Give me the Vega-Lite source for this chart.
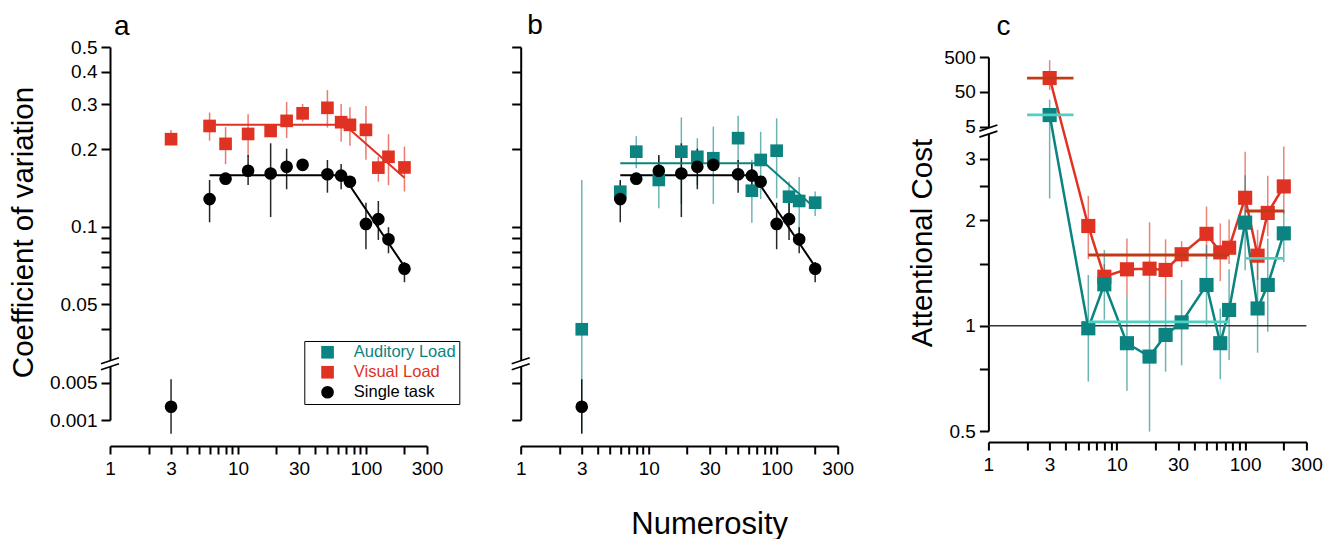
{
  "$schema": "https://vega.github.io/schema/vega-lite/v6.json",
  "padding": {"left": 8, "top": 11, "right": 0, "bottom": 0},
  "config": {
    "font": "Liberation Sans",
    "view": {"stroke": null},
    "axis": {"domainColor": "#000000", "domainWidth": 2, "tickColor": "#000000", "tickWidth": 2, "labelColor": "#000000", "labelFontSize": 19, "labelFont": "Liberation Sans", "titleFont": "Liberation Sans", "titleColor": "#000000", "titleFontWeight": "normal", "grid": false, "labelOverlap": false, "labelFlush": false},
    "title": {"fontSize": 28, "fontWeight": "normal", "anchor": "start", "frame": "group", "baseline": "alphabetic", "color": "#000000", "font": "Liberation Sans"}
  },
  "datasets": {
    "cv": [
      {"series": "Visual Load", "n": 3, "v": 0.219, "lo": 0.208, "hi": 0.238},
      {"series": "Visual Load", "n": 6, "v": 0.2465, "lo": 0.216, "hi": 0.278},
      {"series": "Visual Load", "n": 8, "v": 0.21, "lo": 0.175, "hi": 0.244},
      {"series": "Visual Load", "n": 12, "v": 0.2295, "lo": 0.187, "hi": 0.274},
      {"series": "Visual Load", "n": 18, "v": 0.2357, "lo": 0.226, "hi": 0.246},
      {"series": "Visual Load", "n": 24, "v": 0.258, "lo": 0.221, "hi": 0.306},
      {"series": "Visual Load", "n": 32, "v": 0.276, "lo": 0.256, "hi": 0.3},
      {"series": "Visual Load", "n": 50, "v": 0.29, "lo": 0.243, "hi": 0.34},
      {"series": "Visual Load", "n": 64, "v": 0.255, "lo": 0.214, "hi": 0.3},
      {"series": "Visual Load", "n": 75, "v": 0.249, "lo": 0.2066, "hi": 0.2914},
      {"series": "Visual Load", "n": 100, "v": 0.238, "lo": 0.182, "hi": 0.295},
      {"series": "Visual Load", "n": 125, "v": 0.1697, "lo": 0.1496, "hi": 0.187},
      {"series": "Visual Load", "n": 150, "v": 0.187, "lo": 0.145, "hi": 0.229},
      {"series": "Visual Load", "n": 200, "v": 0.17, "lo": 0.137, "hi": 0.205},
      {"series": "Auditory Load", "n": 3, "v": 0.0399, "lo": 0.00057, "hi": 0.152},
      {"series": "Auditory Load", "n": 6, "v": 0.1368, "lo": 0.125, "hi": 0.15},
      {"series": "Auditory Load", "n": 8, "v": 0.1958, "lo": 0.169, "hi": 0.225},
      {"series": "Auditory Load", "n": 12, "v": 0.152, "lo": 0.118, "hi": 0.187},
      {"series": "Auditory Load", "n": 18, "v": 0.1958, "lo": 0.1226, "hi": 0.266},
      {"series": "Auditory Load", "n": 24, "v": 0.187, "lo": 0.1453, "hi": 0.2208},
      {"series": "Auditory Load", "n": 32, "v": 0.1846, "lo": 0.1226, "hi": 0.245},
      {"series": "Auditory Load", "n": 50, "v": 0.221, "lo": 0.176, "hi": 0.27},
      {"series": "Auditory Load", "n": 64, "v": 0.138, "lo": 0.1036, "hi": 0.182},
      {"series": "Auditory Load", "n": 75, "v": 0.1818, "lo": 0.128, "hi": 0.234},
      {"series": "Auditory Load", "n": 100, "v": 0.1975, "lo": 0.129, "hi": 0.264},
      {"series": "Auditory Load", "n": 125, "v": 0.1308, "lo": 0.1127, "hi": 0.1496},
      {"series": "Auditory Load", "n": 150, "v": 0.1259, "lo": 0.09, "hi": 0.156},
      {"series": "Auditory Load", "n": 200, "v": 0.124, "lo": 0.11, "hi": 0.137},
      {"series": "Single task", "n": 3, "v": 0.00177, "lo": 0.00055, "hi": 0.0058},
      {"series": "Single task", "n": 6, "v": 0.128, "lo": 0.104, "hi": 0.152},
      {"series": "Single task", "n": 8, "v": 0.1537, "lo": 0.148, "hi": 0.16},
      {"series": "Single task", "n": 12, "v": 0.165, "lo": 0.1453, "hi": 0.19},
      {"series": "Single task", "n": 18, "v": 0.161, "lo": 0.109, "hi": 0.211},
      {"series": "Single task", "n": 24, "v": 0.171, "lo": 0.1398, "hi": 0.2012},
      {"series": "Single task", "n": 32, "v": 0.174, "lo": 0.168, "hi": 0.18},
      {"series": "Single task", "n": 50, "v": 0.16, "lo": 0.1356, "hi": 0.1818},
      {"series": "Single task", "n": 64, "v": 0.158, "lo": 0.1398, "hi": 0.1753},
      {"series": "Single task", "n": 75, "v": 0.1496, "lo": 0.145, "hi": 0.156},
      {"series": "Single task", "n": 100, "v": 0.1025, "lo": 0.0817, "hi": 0.124},
      {"series": "Single task", "n": 125, "v": 0.107, "lo": 0.0888, "hi": 0.1259},
      {"series": "Single task", "n": 150, "v": 0.0893, "lo": 0.0788, "hi": 0.0995},
      {"series": "Single task", "n": 200, "v": 0.0686, "lo": 0.0608, "hi": 0.0729}
    ],
    "cvfit": [
      {"series": "Visual Load", "n": 6, "v": 0.2494},
      {"series": "Visual Load", "n": 68, "v": 0.2494},
      {"series": "Visual Load", "n": 200, "v": 0.155},
      {"series": "Auditory Load", "n": 6, "v": 0.1765},
      {"series": "Auditory Load", "n": 81, "v": 0.1765},
      {"series": "Auditory Load", "n": 200, "v": 0.118},
      {"series": "Single task", "n": 6, "v": 0.1585},
      {"series": "Single task", "n": 66, "v": 0.1585},
      {"series": "Single task", "n": 200, "v": 0.0699}
    ],
    "cost": [
      {"series": "Visual Load", "n": 3, "v": 125, "lo": 57, "hi": 405},
      {"series": "Visual Load", "n": 6, "v": 1.927, "lo": 1.55, "hi": 2.35},
      {"series": "Visual Load", "n": 8, "v": 1.38, "lo": 1.25, "hi": 1.5},
      {"series": "Visual Load", "n": 12, "v": 1.449, "lo": 1.21, "hi": 1.776},
      {"series": "Visual Load", "n": 18, "v": 1.455, "lo": 1.35, "hi": 1.975},
      {"series": "Visual Load", "n": 24, "v": 1.443, "lo": 1.184, "hi": 1.765},
      {"series": "Visual Load", "n": 32, "v": 1.6, "lo": 1.47, "hi": 1.745},
      {"series": "Visual Load", "n": 50, "v": 1.83, "lo": 1.55, "hi": 2.19},
      {"series": "Visual Load", "n": 64, "v": 1.62, "lo": 1.34, "hi": 1.96},
      {"series": "Visual Load", "n": 75, "v": 1.67, "lo": 1.5, "hi": 2.01},
      {"series": "Visual Load", "n": 100, "v": 2.32, "lo": 1.94, "hi": 3.14},
      {"series": "Visual Load", "n": 125, "v": 1.585, "lo": 1.35, "hi": 1.88},
      {"series": "Visual Load", "n": 150, "v": 2.1, "lo": 1.8, "hi": 2.68},
      {"series": "Visual Load", "n": 200, "v": 2.5, "lo": 2.09, "hi": 3.25},
      {"series": "Auditory Load", "n": 3, "v": 10.9, "lo": 2.31, "hi": 30},
      {"series": "Auditory Load", "n": 6, "v": 0.983, "lo": 0.692, "hi": 1.396},
      {"series": "Auditory Load", "n": 8, "v": 1.313, "lo": 1.04, "hi": 1.645},
      {"series": "Auditory Load", "n": 12, "v": 0.891, "lo": 0.652, "hi": 1.21},
      {"series": "Auditory Load", "n": 18, "v": 0.816, "lo": 0.498, "hi": 1.35},
      {"series": "Auditory Load", "n": 24, "v": 0.941, "lo": 0.739, "hi": 1.184},
      {"series": "Auditory Load", "n": 32, "v": 1.022, "lo": 0.77, "hi": 1.35},
      {"series": "Auditory Load", "n": 50, "v": 1.307, "lo": 0.993, "hi": 1.7},
      {"series": "Auditory Load", "n": 64, "v": 0.891, "lo": 0.703, "hi": 1.12},
      {"series": "Auditory Load", "n": 75, "v": 1.109, "lo": 0.798, "hi": 1.45},
      {"series": "Auditory Load", "n": 100, "v": 1.97, "lo": 1.44, "hi": 2.69},
      {"series": "Auditory Load", "n": 125, "v": 1.12, "lo": 0.837, "hi": 1.575},
      {"series": "Auditory Load", "n": 150, "v": 1.307, "lo": 0.961, "hi": 1.776},
      {"series": "Auditory Load", "n": 200, "v": 1.836, "lo": 1.52, "hi": 2.14}
    ],
    "costfit": [
      {"series": "Visual Load", "n1": 2.0, "n2": 4.6, "v": 125},
      {"series": "Visual Load", "n1": 6, "n2": 75, "v": 1.592},
      {"series": "Visual Load", "n1": 100, "n2": 200, "v": 2.127},
      {"series": "Auditory Load", "n1": 2.0, "n2": 4.6, "v": 11.1},
      {"series": "Auditory Load", "n1": 6, "n2": 75, "v": 1.025},
      {"series": "Auditory Load", "n1": 100, "n2": 200, "v": 1.557}
    ]
  },
  "spacing": 93.7,
  "bounds": "flush",
  "resolve": {"scale": {"color": "independent", "shape": "independent", "stroke": "independent"}, "legend": {"color": "independent", "shape": "independent", "stroke": "independent"}},
  "hconcat": [
    {
      "width": 317,
      "height": 399,
      "title": {"text": "a", "dx": 4, "offset": -2.5},
      "layer": [
        {
          "data": {"name": "cv"},
          "transform": [{"filter": "datum.series != 'Auditory Load'"}],
          "mark": {"type": "rule", "strokeWidth": 1.5},
          "encoding": {
            "x": {"field": "n", "type": "quantitative", "scale": {"type": "log", "domain": [1, 300], "nice": false, "zero": false},
              "axis": {"title": null, "values": [1,2,3,4,5,6,7,8,9,10,20,30,40,50,60,70,80,90,100,200,300], "format": "~g", "labelExpr": "indexof([1,3,10,30,100,300], datum.value) >= 0 ? datum.label : ''", "tickSize": 8, "labelPadding": 5}},
            "y": {"field": "lo", "type": "quantitative", "scale": {"type": "log", "domain": [0.001, 0.01, 0.03, 0.5], "range": [373, 319.6, 314.1, 0], "nice": false, "zero": false},
              "axis": {"title": "Coefficient of variation", "titleFontSize": 29.5, "titleX": -78, "titleY": 185, "titleBaseline": "alphabetic", "titleAlign": "center", "values": [0.001,0.005,0.04,0.05,0.06,0.07,0.08,0.09,0.1,0.2,0.3,0.4,0.5], "format": "~g", "labelExpr": "indexof([0.04,0.06,0.07,0.08,0.09], datum.value) >= 0 ? '' : datum.label", "tickSize": 9, "labelPadding": 4}},
            "y2": {"field": "hi"},
            "stroke": {"field": "series", "type": "nominal", "scale": {"domain": ["Single task", "Visual Load", "Auditory Load"], "range": ["#000000", "#e03222", "#0b8380"]}, "legend": null},
            "opacity": {"condition": {"test": "datum.series == 'Single task'", "value": 0.85}, "value": 0.65}
          }
        },
        {
          "data": {"name": "cvfit"},
          "transform": [{"filter": "datum.series != 'Auditory Load'"}],
          "mark": {"type": "line", "strokeWidth": 2},
          "encoding": {
            "x": {"field": "n", "type": "quantitative", "scale": {"type": "log", "domain": [1, 300], "nice": false, "zero": false}},
            "y": {"field": "v", "type": "quantitative", "scale": {"type": "log", "domain": [0.001, 0.01, 0.03, 0.5], "range": [373, 319.6, 314.1, 0], "nice": false, "zero": false}},
            "stroke": {"field": "series", "type": "nominal", "scale": {"domain": ["Single task", "Visual Load", "Auditory Load"], "range": ["#000000", "#e03222", "#0b8380"]}, "legend": null}
          }
        },
        {
          "data": {"name": "cv"},
          "transform": [{"filter": "datum.series != 'Auditory Load'"}],
          "mark": {"type": "point", "filled": true, "opacity": 1, "size": 160, "strokeWidth": 0},
          "encoding": {
            "x": {"field": "n", "type": "quantitative", "scale": {"type": "log", "domain": [1, 300], "nice": false, "zero": false}},
            "y": {"field": "v", "type": "quantitative", "scale": {"type": "log", "domain": [0.001, 0.01, 0.03, 0.5], "range": [373, 319.6, 314.1, 0], "nice": false, "zero": false}},
            "color": {"field": "series", "type": "nominal", "scale": {"domain": ["Auditory Load", "Visual Load", "Single task"], "range": ["#0b8380", "#e03222", "#000000"]},
              "legend": {"title": null, "orient": "none", "legendX": 194.3, "legendY": 294, "padding": 3, "rowPadding": 3, "symbolOffset": 12, "labelOffset": 18, "labelFontSize": 16.5, "labelFont": "Liberation Sans", "symbolSize": 160, "symbolStrokeWidth": 0, "strokeColor": "#000000", "fillColor": "#ffffff", "cornerRadius": 0,
                "labelColor": {"expr": "datum.label == 'Auditory Load' ? '#0b8380' : (datum.label == 'Visual Load' ? '#e03222' : '#000000')"}}},
            "shape": {"field": "series", "type": "nominal", "scale": {"domain": ["Auditory Load", "Visual Load", "Single task"], "range": ["square", "square", "circle"]}, "legend": {"title": null}}
          }
        },
        {
          "data": {"values": [{}]},
          "mark": {"type": "point", "shape": "M-1,0L1,-0.667L1,0L-1,0.667Z", "filled": true, "color": "#ffffff", "opacity": 1, "size": 324, "strokeWidth": 0},
          "encoding": {
            "x": {"datum": 1, "type": "quantitative", "scale": {"type": "log", "domain": [1, 300], "nice": false, "zero": false}},
            "y": {"datum": 0.01732, "type": "quantitative", "scale": {"type": "log", "domain": [0.001, 0.01, 0.03, 0.5], "range": [373, 319.6, 314.1, 0], "nice": false, "zero": false}}
          }
        },
        {
          "data": {"values": [{}]},
          "mark": {"type": "point", "shape": "M-1,0L1,-0.667M-1,0.667L1,0", "filled": false, "color": "#000000", "opacity": 1, "size": 324, "strokeWidth": 1.6},
          "encoding": {
            "x": {"datum": 1, "type": "quantitative", "scale": {"type": "log", "domain": [1, 300], "nice": false, "zero": false}},
            "y": {"datum": 0.01732, "type": "quantitative", "scale": {"type": "log", "domain": [0.001, 0.01, 0.03, 0.5], "range": [373, 319.6, 314.1, 0], "nice": false, "zero": false}}
          }
        }
      ]
    },
    {
      "width": 373.3,
      "height": 399,
      "title": {"text": "b", "dx": 6.6, "offset": 6.4},
      "layer": [
        {
          "data": {"name": "cv"},
          "transform": [{"filter": "datum.series != 'Visual Load'"}],
          "mark": {"type": "rule", "strokeWidth": 1.5},
          "encoding": {
            "x": {"field": "n", "type": "quantitative", "scale": {"type": "log", "domain": [1, 300], "range": [0, 317], "nice": false, "zero": false},
              "axis": {"title": "Numerosity", "titleFontSize": 31, "titleX": 188.5, "titleY": 87.5, "titleBaseline": "alphabetic", "titleAlign": "center", "values": [1,2,3,4,5,6,7,8,9,10,20,30,40,50,60,70,80,90,100,200,300], "format": "~g", "labelExpr": "indexof([1,3,10,30,100,300], datum.value) >= 0 ? datum.label : ''", "tickSize": 8, "labelPadding": 5}},
            "y": {"field": "lo", "type": "quantitative", "scale": {"type": "log", "domain": [0.001, 0.01, 0.03, 0.5], "range": [373, 319.6, 314.1, 0], "nice": false, "zero": false},
              "axis": {"title": null, "labels": false, "values": [0.001,0.005,0.04,0.05,0.06,0.07,0.08,0.09,0.1,0.2,0.3,0.4,0.5], "tickSize": 9}},
            "y2": {"field": "hi"},
            "stroke": {"field": "series", "type": "nominal", "scale": {"domain": ["Single task", "Visual Load", "Auditory Load"], "range": ["#000000", "#e03222", "#0b8380"]}, "legend": null},
            "opacity": {"condition": {"test": "datum.series == 'Single task'", "value": 0.85}, "value": 0.6}
          }
        },
        {
          "data": {"name": "cvfit"},
          "transform": [{"filter": "datum.series != 'Visual Load'"}],
          "mark": {"type": "line", "strokeWidth": 2},
          "encoding": {
            "x": {"field": "n", "type": "quantitative", "scale": {"type": "log", "domain": [1, 300], "range": [0, 317], "nice": false, "zero": false}},
            "y": {"field": "v", "type": "quantitative", "scale": {"type": "log", "domain": [0.001, 0.01, 0.03, 0.5], "range": [373, 319.6, 314.1, 0], "nice": false, "zero": false}},
            "stroke": {"field": "series", "type": "nominal", "scale": {"domain": ["Single task", "Visual Load", "Auditory Load"], "range": ["#000000", "#e03222", "#0b8380"]}, "legend": null}
          }
        },
        {
          "data": {"name": "cv"},
          "transform": [{"filter": "datum.series != 'Visual Load'"}],
          "mark": {"type": "point", "filled": true, "opacity": 1, "size": 160, "strokeWidth": 0},
          "encoding": {
            "x": {"field": "n", "type": "quantitative", "scale": {"type": "log", "domain": [1, 300], "range": [0, 317], "nice": false, "zero": false}},
            "y": {"field": "v", "type": "quantitative", "scale": {"type": "log", "domain": [0.001, 0.01, 0.03, 0.5], "range": [373, 319.6, 314.1, 0], "nice": false, "zero": false}},
            "color": {"field": "series", "type": "nominal", "scale": {"domain": ["Auditory Load", "Visual Load", "Single task"], "range": ["#0b8380", "#e03222", "#000000"]}, "legend": null},
            "shape": {"field": "series", "type": "nominal", "scale": {"domain": ["Auditory Load", "Visual Load", "Single task"], "range": ["square", "square", "circle"]}, "legend": null}
          }
        },
        {
          "data": {"values": [{}]},
          "mark": {"type": "point", "shape": "M-1,0L1,-0.667L1,0L-1,0.667Z", "filled": true, "color": "#ffffff", "opacity": 1, "size": 324, "strokeWidth": 0},
          "encoding": {
            "x": {"datum": 1, "type": "quantitative", "scale": {"type": "log", "domain": [1, 300], "range": [0, 317], "nice": false, "zero": false}},
            "y": {"datum": 0.01732, "type": "quantitative", "scale": {"type": "log", "domain": [0.001, 0.01, 0.03, 0.5], "range": [373, 319.6, 314.1, 0], "nice": false, "zero": false}}
          }
        },
        {
          "data": {"values": [{}]},
          "mark": {"type": "point", "shape": "M-1,0L1,-0.667M-1,0.667L1,0", "filled": false, "color": "#000000", "opacity": 1, "size": 324, "strokeWidth": 1.6},
          "encoding": {
            "x": {"datum": 1, "type": "quantitative", "scale": {"type": "log", "domain": [1, 300], "range": [0, 317], "nice": false, "zero": false}},
            "y": {"datum": 0.01732, "type": "quantitative", "scale": {"type": "log", "domain": [0.001, 0.01, 0.03, 0.5], "range": [373, 319.6, 314.1, 0], "nice": false, "zero": false}}
          }
        }
      ]
    },
    {
      "width": 318,
      "height": 395,
      "title": {"text": "c", "dx": 8, "offset": 6.4},
      "layer": [
        {
          "data": {"name": "cost"},
          "mark": {"type": "rule", "strokeWidth": 1.5, "opacity": 0.6},
          "encoding": {
            "x": {"field": "n", "type": "quantitative", "scale": {"type": "log", "domain": [1, 300], "nice": false, "zero": false},
              "axis": {"title": null, "values": [1,2,3,4,5,6,7,8,9,10,20,30,40,50,60,70,80,90,100,200,300], "format": "~g", "labelExpr": "indexof([1,3,10,30,100,300], datum.value) >= 0 ? datum.label : ''", "tickSize": 8, "labelPadding": 5}},
            "y": {"field": "lo", "type": "quantitative", "scale": {"type": "log", "domain": [0.5, 3.5, 5, 500], "range": [384, 88.3, 79.9, 10], "nice": false, "zero": false},
              "axis": {"title": "Attentional Cost", "titleFontSize": 29.5, "titleX": -57, "titleY": 195.5, "titleBaseline": "alphabetic", "titleAlign": "center", "values": [0.5,0.75,1,1.5,2,2.5,3,5,50,500], "format": "~g", "labelExpr": "indexof([0.75,1.5,2.5], datum.value) >= 0 ? '' : datum.label", "tickSize": 9, "labelPadding": 4}},
            "y2": {"field": "hi"},
            "stroke": {"field": "series", "type": "nominal", "scale": {"domain": ["Visual Load", "Auditory Load"], "range": ["#e03222", "#0b8380"]}, "legend": null}
          }
        },
        {
          "data": {"values": [{}]},
          "mark": {"type": "rule", "color": "#333333", "strokeWidth": 1.5},
          "encoding": {
            "y": {"datum": 1, "type": "quantitative", "scale": {"type": "log", "domain": [0.5, 3.5, 5, 500], "range": [384, 88.3, 79.9, 10], "nice": false, "zero": false}}
          }
        },
        {
          "data": {"name": "cost"},
          "mark": {"type": "line", "strokeWidth": 2.5},
          "encoding": {
            "x": {"field": "n", "type": "quantitative", "scale": {"type": "log", "domain": [1, 300], "nice": false, "zero": false}},
            "y": {"field": "v", "type": "quantitative", "scale": {"type": "log", "domain": [0.5, 3.5, 5, 500], "range": [384, 88.3, 79.9, 10], "nice": false, "zero": false}},
            "stroke": {"field": "series", "type": "nominal", "scale": {"domain": ["Visual Load", "Auditory Load"], "range": ["#e03222", "#0b8380"]}, "legend": null}
          }
        },
        {
          "data": {"name": "cost"},
          "mark": {"type": "point", "shape": "square", "filled": true, "opacity": 1, "size": 200, "strokeWidth": 0},
          "encoding": {
            "x": {"field": "n", "type": "quantitative", "scale": {"type": "log", "domain": [1, 300], "nice": false, "zero": false}},
            "y": {"field": "v", "type": "quantitative", "scale": {"type": "log", "domain": [0.5, 3.5, 5, 500], "range": [384, 88.3, 79.9, 10], "nice": false, "zero": false}},
            "color": {"field": "series", "type": "nominal", "scale": {"domain": ["Auditory Load", "Visual Load"], "range": ["#0b8380", "#e03222"]}, "legend": null}
          }
        },
        {
          "data": {"name": "costfit"},
          "transform": [{"filter": "datum.series == 'Visual Load'"}],
          "mark": {"type": "rule", "color": "#c13a16", "strokeWidth": 2.8},
          "encoding": {
            "x": {"field": "n1", "type": "quantitative", "scale": {"type": "log", "domain": [1, 300], "nice": false, "zero": false}},
            "x2": {"field": "n2"},
            "y": {"field": "v", "type": "quantitative", "scale": {"type": "log", "domain": [0.5, 3.5, 5, 500], "range": [384, 88.3, 79.9, 10], "nice": false, "zero": false}}
          }
        },
        {
          "data": {"name": "costfit"},
          "transform": [{"filter": "datum.series == 'Auditory Load'"}],
          "mark": {"type": "rule", "color": "#4fd1c1", "strokeWidth": 2.8},
          "encoding": {
            "x": {"field": "n1", "type": "quantitative", "scale": {"type": "log", "domain": [1, 300], "nice": false, "zero": false}},
            "x2": {"field": "n2"},
            "y": {"field": "v", "type": "quantitative", "scale": {"type": "log", "domain": [0.5, 3.5, 5, 500], "range": [384, 88.3, 79.9, 10], "nice": false, "zero": false}}
          }
        },
        {
          "data": {"values": [{}]},
          "mark": {"type": "point", "shape": "M-1,0L1,-0.667L1,0L-1,0.667Z", "filled": true, "color": "#ffffff", "opacity": 1, "size": 324, "strokeWidth": 0},
          "encoding": {
            "x": {"datum": 1, "type": "quantitative", "scale": {"type": "log", "domain": [1, 300], "nice": false, "zero": false}},
            "y": {"datum": 4.18, "type": "quantitative", "scale": {"type": "log", "domain": [0.5, 3.5, 5, 500], "range": [384, 88.3, 79.9, 10], "nice": false, "zero": false}}
          }
        },
        {
          "data": {"values": [{}]},
          "mark": {"type": "point", "shape": "M-1,0L1,-0.667M-1,0.667L1,0", "filled": false, "color": "#000000", "opacity": 1, "size": 324, "strokeWidth": 1.6},
          "encoding": {
            "x": {"datum": 1, "type": "quantitative", "scale": {"type": "log", "domain": [1, 300], "nice": false, "zero": false}},
            "y": {"datum": 4.18, "type": "quantitative", "scale": {"type": "log", "domain": [0.5, 3.5, 5, 500], "range": [384, 88.3, 79.9, 10], "nice": false, "zero": false}}
          }
        }
      ]
    }
  ]
}
